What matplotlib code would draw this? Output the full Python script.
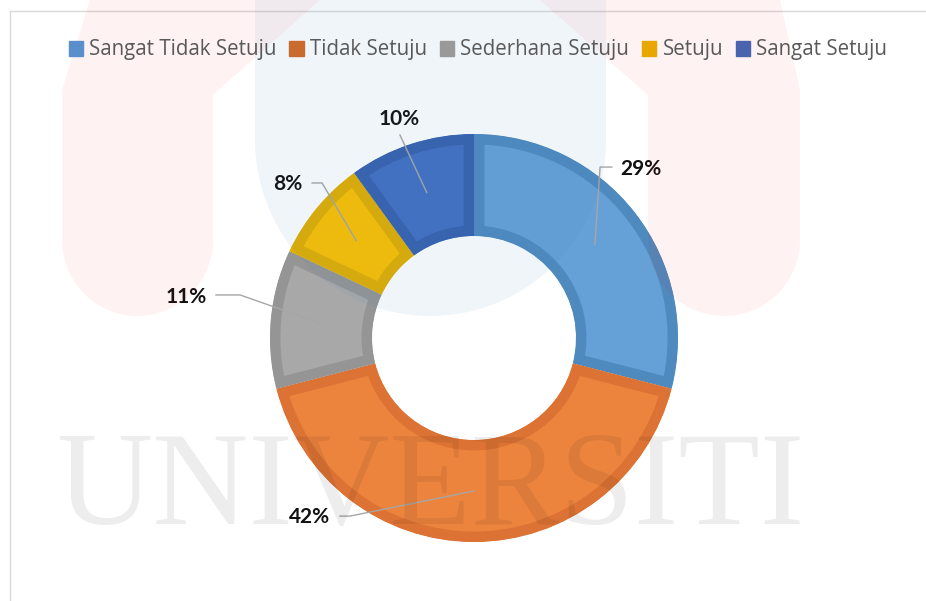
import matplotlib.pyplot as plt
import matplotlib.patches as mpatches
import numpy as np

# data
categories = ['Sangat Tidak Setuju', 'Tidak Setuju', 'Sederhana Setuju', 'Setuju', 'Sangat Setuju']
percent = [29, 42, 11, 8, 10]

fills = ['#65A0D6', '#EC843E', '#A8A8A8', '#FCBF00', '#4370C2']
edges = ['#4E8ABE', '#DC7334', '#959595', '#E2AE00', '#3761AE']
legend_cols = ['#5A8FCB', '#C96A2E', '#999999', '#E8A600', '#4A63AE']

# label layout (pie units): text x, text y, ha, leader points after the wedge point
label_pos = [
    (0.716, 0.828, 'left', [(0.618, 0.838), (0.676, 0.838)]),
    (-0.706, -0.877, 'right', [(-0.608, -0.873), (-0.657, -0.873)]),
    (-1.309, 0.201, 'right', [(-1.147, 0.211), (-1.265, 0.211)]),
    (-0.843, 0.755, 'right', [(-0.745, 0.760), (-0.794, 0.760)]),
    (-0.368, 1.074, 'center', [(-0.363, 0.995)]),
]

W, H = 926, 601
fig = plt.figure(figsize=(W / 100, H / 100), dpi=100)

# background + chart frame
bg = fig.add_axes([0, 0, 1, 1])
bg.set_xlim(0, W)
bg.set_ylim(H, 0)
bg.axis('off')
bg.plot([10, 10], [11, H], color='#D9D9D9', lw=1)
bg.plot([10, W], [11, 11], color='#D9D9D9', lw=1)

# donut
R = 204
cx, cy = 474, 338
ax = fig.add_axes([(cx - R) / W, (H - cy - R) / H, 2 * R / W, 2 * R / H])
wedges, _ = ax.pie(percent, colors=fills, startangle=90, counterclock=False,
                   radius=1, wedgeprops=dict(width=0.5, linewidth=15))
for w, ec in zip(wedges, edges):
    w.set_edgecolor(ec)
    w.set_clip_on(True)
    w.set_clip_path(w)
ax.set_xlim(-1, 1)
ax.set_ylim(-1, 1)

cum = np.cumsum([0] + percent)
for i, p in enumerate(percent):
    mid = np.deg2rad(90 - (cum[i] + p / 2) * 3.6)
    px, py = 0.75 * np.cos(mid), 0.75 * np.sin(mid)
    tx, ty, ha, pts = label_pos[i]
    xs = [px] + [q[0] for q in pts]
    ys = [py] + [q[1] for q in pts]
    ax.plot(xs, ys, color='#A6A6A6', lw=1, clip_on=False)
    ax.text(tx, ty, f'{p}%', ha=ha, va='center', fontsize=15, fontweight='bold',
            family='Lato', color='#111111', clip_on=False)

# legend
handles = [mpatches.Patch(color=c) for c in legend_cols]
fig.legend(handles, categories, loc='center', bbox_to_anchor=(478 / W, 1 - 50 / H),
           ncol=5, frameon=False, prop={'family': 'Open Sans', 'size': 14.8},
           labelcolor='#595959', handlelength=0.7, handleheight=0.7,
           handletextpad=0.3, columnspacing=0.62)

# faint watermark over everything
wm = fig.add_axes([0, 0, 1, 1])
wm.set_xlim(0, W)
wm.set_ylim(H, 0)
wm.axis('off')
wm.patch.set_visible(False)

pink = dict(facecolor=(1.0, 0.0, 0.0), alpha=0.05, lw=0)
wm.add_patch(mpatches.Polygon(
    [(62, 240), (62, 90), (90, 0), (320, 0), (213, 95), (213, 240)]
    + [(137.5 + 75.5 * np.cos(t), 240 + 76 * np.sin(t)) for t in np.linspace(0, np.pi, 60)],
    **pink))
wm.add_patch(mpatches.Polygon(
    [(648, 240), (648, 95), (540, 0), (780, 0), (800, 90), (800, 240)]
    + [(724 + 76 * np.cos(t), 240 + 76 * np.sin(t)) for t in np.linspace(0, np.pi, 60)],
    **pink))

blue = dict(facecolor=(70 / 255, 130 / 255, 190 / 255), alpha=0.08, lw=0)
wm.add_patch(mpatches.Polygon(
    [(255, 0), (606, 0)]
    + [(430.5 + 175.5 * np.cos(t), 140 + 176 * np.sin(t)) for t in np.linspace(0, np.pi, 80)],
    **blue))

wm.text(430, 491, 'UNIVERSITI', ha='center', va='center', fontsize=96,
        family='Liberation Serif', color='black', alpha=0.07)

fig.savefig('out.png', dpi=100)
